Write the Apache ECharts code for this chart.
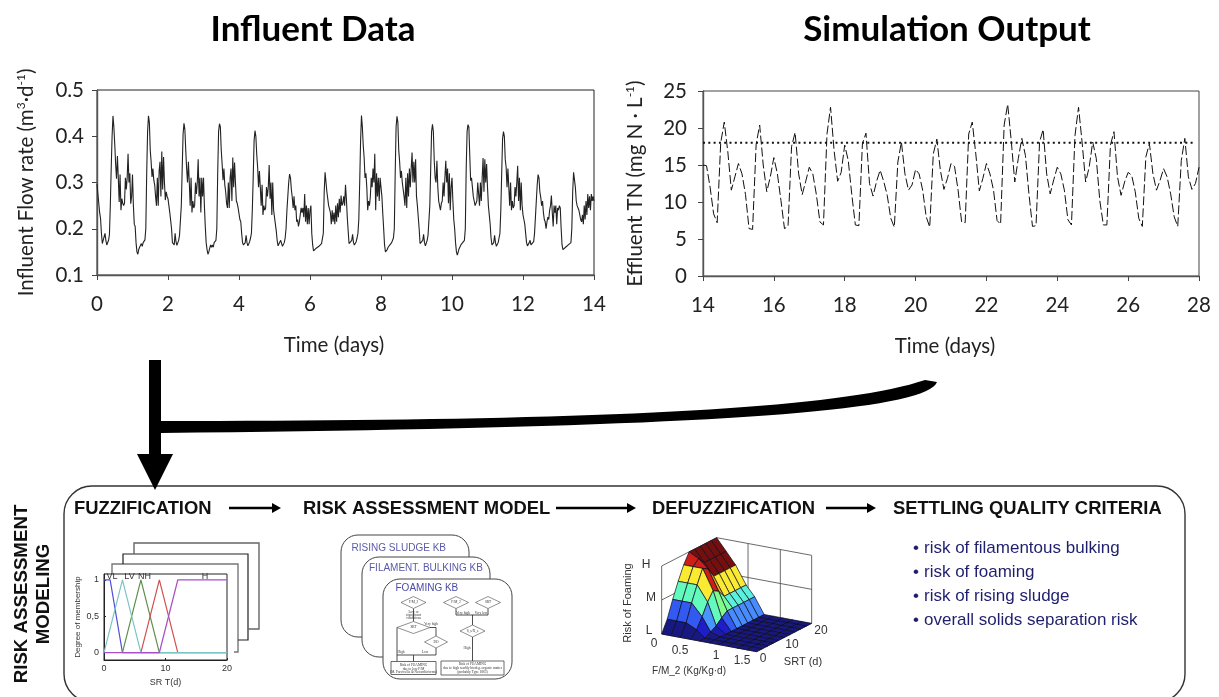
<!DOCTYPE html>
<html><head><meta charset="utf-8">
<style>html,body{margin:0;padding:0;background:#fff}#c{width:1219px;height:697px}</style>
<script src="https://cdn.jsdelivr.net/npm/echarts@6/dist/echarts.min.js"></script>
</head><body><div id="c"></div>
<script>
// ---------- Influent flow, one list per day, sampled 40 times a day
const flowDay0=[.297,.275,.255,.235,.222,.19,.168,.165,.17,.19,.175,.165,.165,.175,.187,.25,.33,.4,.444,.42,.383,.34,.308,.357,.31,.258,.317,.24,.265,.255,.25,.255,.31,.285,.31,.362,.3,.32,.254,.27];
const flowDay1=[.317,.25,.21,.205,.17,.15,.145,.155,.16,.158,.168,.162,.17,.168,.176,.2,.32,.41,.444,.43,.37,.345,.312,.33,.305,.295,.27,.25,.31,.25,.325,.345,.27,.367,.285,.355,.3,.262,.28,.27];
const flowDay2=[.265,.25,.235,.218,.2,.17,.166,.165,.19,.172,.164,.165,.175,.186,.19,.25,.33,.405,.428,.415,.37,.33,.3,.345,.3,.25,.31,.235,.26,.245,.25,.3,.275,.3,.35,.27,.31,.235,.31,.27];
const flowDay3=[.31,.25,.205,.17,.155,.145,.15,.158,.165,.16,.165,.16,.17,.168,.175,.2,.32,.41,.427,.42,.37,.34,.305,.33,.295,.28,.255,.245,.3,.245,.31,.33,.26,.354,.29,.343,.3,.26,.255,.245];
const flowDay4=[.245,.22,.215,.19,.17,.165,.165,.17,.186,.17,.163,.165,.172,.18,.19,.24,.31,.39,.412,.4,.36,.333,.29,.325,.29,.25,.295,.23,.25,.24,.245,.29,.27,.29,.338,.265,.3,.23,.3,.24];
const flowDay5=[.225,.21,.195,.175,.163,.162,.165,.175,.168,.162,.165,.17,.18,.2,.24,.27,.3,.318,.31,.285,.268,.245,.27,.24,.25,.215,.22,.205,.215,.213,.245,.235,.245,.225,.275,.215,.25,.21,.245,.21];
const flowDay6=[.24,.25,.19,.165,.152,.15,.155,.158,.16,.16,.162,.165,.163,.168,.17,.19,.28,.322,.318,.28,.265,.25,.243,.235,.21,.24,.215,.235,.21,.25,.215,.255,.225,.265,.235,.272,.25,.255,.27,.25];
const flowDay7=[.295,.265,.225,.195,.168,.165,.165,.175,.188,.17,.165,.165,.172,.18,.19,.22,.3,.39,.445,.42,.38,.354,.31,.32,.29,.24,.26,.25,.27,.31,.29,.33,.3,.362,.24,.32,.27,.31,.26,.31];
const flowDay8=[.31,.27,.233,.2,.165,.15,.147,.155,.16,.16,.165,.163,.17,.172,.18,.2,.32,.42,.443,.43,.37,.345,.31,.325,.3,.285,.27,.25,.31,.245,.32,.27,.33,.29,.33,.365,.3,.345,.3,.35];
const flowDay9=[.27,.25,.225,.2,.168,.165,.166,.175,.188,.17,.163,.165,.175,.186,.19,.25,.33,.41,.426,.41,.347,.31,.3,.347,.29,.26,.25,.24,.255,.26,.3,.27,.31,.347,.3,.33,.255,.32,.24,.29];
const flowDay10=[.31,.26,.22,.2,.17,.15,.143,.15,.157,.16,.165,.162,.17,.17,.175,.2,.33,.41,.425,.42,.36,.304,.31,.29,.27,.26,.25,.247,.26,.3,.3,.25,.3,.26,.31,.353,.28,.35,.3,.34];
const flowDay11=[.29,.25,.23,.21,.18,.165,.165,.17,.186,.17,.162,.163,.17,.18,.19,.24,.32,.395,.41,.4,.35,.333,.29,.33,.29,.25,.3,.24,.26,.245,.25,.29,.27,.3,.336,.26,.31,.24,.3,.25];
const flowDay12=[.23,.22,.21,.19,.17,.163,.162,.17,.175,.165,.162,.165,.172,.19,.225,.26,.295,.317,.31,.28,.268,.25,.26,.235,.22,.215,.2,.215,.225,.22,.24,.25,.272,.235,.205,.25,.235,.25,.21,.245];
const flowDay13=[.24,.25,.245,.2,.165,.155,.154,.158,.16,.162,.16,.165,.163,.167,.17,.2,.28,.322,.32,.29,.26,.25,.245,.24,.23,.22,.215,.23,.21,.25,.22,.26,.23,.275,.245,.27,.24,.275,.26,.27,.26];
const flowDays=[flowDay0,flowDay1,flowDay2,flowDay3,flowDay4,flowDay5,flowDay6,flowDay7,flowDay8,flowDay9,flowDay10,flowDay11,flowDay12,flowDay13];
// ---------- Effluent TN, every 0.1 day from day 14 to day 28
const effluentTN=[15,14.9,12,8.4,7.2,18,20.8,16.8,11.6,13.4,15.2,13.8,11,6.4,6.3,17.8,20.4,15,11.4,13.4,16,13.8,10.2,6.4,6.7,17.5,19.4,13.8,11,12.8,14.7,13.8,11,7.3,6.9,19.2,22.8,17,12.8,14,17.7,15.6,11,6.9,6.8,17.9,19.3,12.5,10.8,12.8,14.3,12.8,10.9,7.8,6.6,15.4,18.1,13.8,11.6,12.3,14.4,13.8,11.6,8,6.6,16.5,18.5,14.3,11.7,13.2,15.2,14.8,11.6,7.3,7.2,19.2,20.8,16.5,11.5,13.2,15.2,13.8,11.6,7.5,7,20.4,23.2,18.3,12.7,15.9,18.6,16.3,11.1,6.7,6.8,18.1,19.8,13.8,11.1,13,14.7,13.8,11.6,7.6,6.9,19,22.8,18.1,12.7,14.7,18.1,15.9,10.2,6.9,6.9,17.7,19.5,13.4,10.9,12.7,14,13.6,11.4,7.8,6.7,16.1,17.9,13.8,11.6,12.9,14.5,13.4,11.1,8,6.7,15.6,18.6,13.4,11.7,12.5,14.7];
const effluentLimit=[[14,18],[27.85,18]];
// ---------- Membership functions [SRT, degree]
const mfVL=[[0,1],[1,1],[3,0],[20,0]];
const mfLV=[[0,0],[3,1],[6,0],[20,0]];
const mfNH=[[3,0],[6,1],[9,0]];
const mfMH=[[6,0],[9,1],[12,0]];
const mfH=[[0,0],[9,0],[12,1],[20,1]];
// ---------- Risk of foaming surface: one row per F/M step, one column per SRT step (0=L,1=M,2=H)
const fmSteps=[0,.1,.2,.31,.4,.5,.6,.7,.8,.9,1];
const riskRows=[
[0,.35,.85,1.3,1.7,2,2,2,2,2,2],
[0,.35,.85,1.3,1.7,1.85,1.65,1.65,1.65,1.65,1.65],
[0,.35,.85,1.3,1.7,1.6,1.3,1.3,1.3,1.3,1.3],
[0,.2,.5,.85,1.1,1,.77,.77,.77,.77,.77],
[0,0,.1,.2,.35,.47,.47,.47,.47,.47,.47],
[0,0,0,0,0,0,0,0,0,0,0],
[0,0,0,0,0,0,0,0,0,0,0],
[0,0,0,0,0,0,0,0,0,0,0],
[0,0,0,0,0,0,0,0,0,0,0],
[0,0,0,0,0,0,0,0,0,0,0],
[0,0,0,0,0,0,0,0,0,0,0]];
const wallLines=[[0,0,2,0,1,2],[0,1,2,1,1,2],[0,0,1,0,1,1],[0,1,1,1,1,1],[0,0,0,0,0,2],[0,1,0,0,1,2],[1,1,0,1,1,2],[.33,1,0,.33,1,2],[.67,1,0,.67,1,2],[0,.5,0,0,.5,2],[0,0,0,1,0,0],[1,0,0,1,1,0]];

const flowPoints=[];
flowDays.forEach((d,day)=>d.forEach((v,i)=>flowPoints.push([day+i/40,v])));
const tnPoints=effluentTN.map((v,i)=>[14+i/10,v]);

// ---------- View of the 3-D surface, in units of a 690x495 box
const view={ox:155,oy:312,ux:285,uy:53,vx:165,vy:-85,h:102};
const project=(u,v,h)=>[view.ox+u*view.ux+v*view.vx, view.oy+u*view.uy+v*view.vy-h*view.h];
const jetStops=[[0,[24,24,130]],[.2,[30,30,200]],[.35,[50,90,240]],[.47,[70,140,255]],[.77,[90,240,220]],[.85,[100,250,190]],[1.1,[130,250,140]],[1.3,[250,235,50]],[1.6,[235,170,30]],[1.64,[120,15,15]],[1.66,[120,15,15]],[1.68,[205,30,25]],[1.7,[205,30,25]],[2,[115,15,15]]];
function jet(h){for(let i=1;i<jetStops.length;i++){if(h<=jetStops[i][0]){const a=jetStops[i-1],b=jetStops[i],t=(h-a[0])/(b[0]-a[0]);const c=a[1].map((x,k)=>Math.round(x+(b[1][k]-x)*t));return `rgb(${c})`;}}return 'rgb(115,15,15)';}
const faces=[];
for(let r=0;r<riskRows.length-1;r++)for(let c=0;c<riskRows[0].length-1;c++)faces.push([r,c,c-r]);
faces.sort((a,b)=>b[2]-a[2]);
const nV=riskRows[0].length-1;

// ---------- Decoration helpers
const sans='"Liberation Sans",Arial,sans-serif', lato='Lato,sans-serif';
const g=[];
const T=(x,y,text,o={})=>g.push({type:'text',x,y,rotation:(o.rot||0)*Math.PI/180,z:o.z||10,style:{text,fill:o.color||'#222',font:`${o.bold?'bold ':''}${o.size||12}px ${o.family||sans}`,textAlign:o.align||'left',textVerticalAlign:'middle'}});
const L=(pts,o={})=>g.push({type:'polyline',z:o.z||5,shape:{points:pts},style:{stroke:o.color||'#222',lineWidth:o.w||1,fill:null}});
const P=(pts,fill,z)=>g.push({type:'polygon',z:z||5,shape:{points:pts},style:{fill,stroke:null}});
const D=(cx,cy,w,h)=>g.push({type:'polygon',z:8,shape:{points:[[cx-w,cy],[cx,cy-h],[cx+w,cy],[cx,cy+h]]},style:{fill:'#fff',stroke:'#444',lineWidth:.6}});
const Card=(x,y,w,h,z)=>g.push({type:'rect',z,shape:{x,y,width:w,height:h,r:17},style:{fill:'#fff',stroke:'#444',lineWidth:1}});
const bez=(a,b,c,d)=>{const o=[];for(let i=0;i<=40;i++){const t=i/40,m=1-t;o.push([m*m*m*a[0]+3*m*m*t*b[0]+3*m*t*t*c[0]+t*t*t*d[0],m*m*m*a[1]+3*m*m*t*b[1]+3*m*t*t*c[1]+t*t*t*d[1]]);}return o;};

// big arrows
g.push({type:'rect',z:6,shape:{x:149,y:360,width:12,height:97},style:{fill:'#000'}});
P([[137,454],[173,454],[155,490]],'#000',7);
P([...bez([161,421],[550,421],[830,412],[925,380]),...bez([937,382],[925,415],[650,428],[161,433])],'#000',6);
// outer frame
g.push({type:'rect',z:4,shape:{x:64,y:486,width:1121,height:216,r:28},style:{fill:null,stroke:'#333',lineWidth:1.4}});
// section heads
T(74,509,'FUZZIFICATION',{bold:1,size:18.4,color:'#111'});
T(303,509,'RISK ASSESSMENT MODEL',{bold:1,size:18.4,color:'#111'});
T(652,509,'DEFUZZIFICATION',{bold:1,size:18.4,color:'#111'});
T(893,509,'SETTLING QUALITY CRITERIA',{bold:1,size:18.4,color:'#111'});
[[229,281],[556,636],[826,876]].forEach(a=>{L([[a[0],508],[a[1]-8,508]],{w:2.4,color:'#000'});P([[a[1]-9,503],[a[1],508],[a[1]-9,513]],'#000');});
T(22,594,'RISK ASSESSMENT',{bold:1,size:18.7,rot:90,align:'center',color:'#111'});
T(44,594,'MODELING',{bold:1,size:18.7,rot:90,align:'center',color:'#111'});
// criteria list
['risk of filamentous bulking','risk of foaming','risk of rising sludge','overall solids separation risk'].forEach((t,i)=>{T(913,548+24*i,'•',{size:17,color:'#1f1f6e'});T(924,548+24*i,t,{size:17,color:'#1f1f6e'});});
// stacked fuzzification sheets
L([[112,574],[112,564],[238,564],[238,652],[234,652]],{color:'#777',w:1.4});
L([[123,564],[123,554],[248,554],[248,640],[238,640]],{w:1.2});
L([[134,554],[134,543],[259,543],[259,629],[248,629]],{color:'#666',w:1.4});
T(112,577,'VL',{size:9,align:'center',color:'#333'});T(129.5,577,'LV',{size:9,align:'center',color:'#333'});T(144.5,577,'NH',{size:9,align:'center',color:'#333'});T(205,577,'H',{size:9,align:'center',color:'#333'});
// knowledge-base cards
Card(341,535,128,102,1);Card(362,557,128,100,2);Card(383,579,129,100,3);
T(351.5,548,'RISING SLUDGE KB',{size:10,color:'#5a5aa8',z:6});
T(369,568.5,'FILAMENT. BULKING KB',{size:10,color:'#5a5aa8',z:6});
T(395.5,588,'FOAMING KB',{size:10,color:'#4a4aa8',z:6});
D(413.5,602.5,12.5,6);D(456,602.5,12.5,6);D(488,602.5,12.5,6);D(413.5,627.5,16.5,6);D(436,642,11.5,6);D(472.5,631,12.5,6);
L([[413.5,608.5],[413.5,621.5]],{w:.8,z:6});L([[397,627.5],[397,661]],{w:.8,z:6});L([[430,627.5],[436,627.5],[436,636]],{w:.8,z:6});L([[436,648],[436,655],[413.5,655],[413.5,661.5]],{w:.8,z:6});L([[397,655],[413.5,655]],{w:.8,z:6});
L([[456,608.5],[456,615],[488,615],[488,608.5]],{w:.8,z:6});L([[472.5,615],[472.5,625]],{w:.8,z:6});L([[472.5,637],[472.5,661.5]],{w:.8,z:6});
g.push({type:'rect',z:7,shape:{x:391,y:661.5,width:45,height:13},style:{fill:'#fff',stroke:'#444',lineWidth:.8}});
g.push({type:'rect',z:7,shape:{x:441,y:661,width:63,height:14},style:{fill:'#fff',stroke:'#444',lineWidth:.8}});
const tiny={size:3.5,align:'center',color:'#333',z:9,family:'"Liberation Serif",serif'};
[[413.5,602.5,'F/M_2'],[456,602.5,'F/M_2'],[488,602.5,'SRT'],[413.5,627.5,'SRT'],[436,642,'DO'],[472.5,631,'S_s/X_s'],[413.5,612,'Low or'],[413.5,615,'significant'],[413.5,618,'conditions'],[431,624,'Very high'],[463,613,'Very high'],[481,613,'Very low'],[401,652,'High'],[425,652,'Low'],[467,648,'High'],[413.5,665,'Risk of FOAMING'],[413.5,669,'due to low F/M'],[413.5,672.5,'(M. Parvicella & Nocardioforms)'],[472.5,664,'Risk of FOAMING'],[472.5,668,'due to high readily biodeg. organic matter'],[472.5,672,'(probably Type 1863)']].forEach(a=>T(a[0],a[1],a[2],tiny));
// surface annotations
T(646,565,'H',{size:12,align:'center',color:'#333'});T(651,598,'M',{size:12,align:'center',color:'#333'});T(649,631,'L',{size:12,align:'center',color:'#333'});
T(628,603,'Risk of Foaming',{size:11,rot:90,align:'center',color:'#333'});
[[654,644,'0'],[680,651,'0.5'],[716,656,'1'],[742,661,'1.5'],[763,659,'0'],[792,645,'10'],[821,631,'20']].forEach(a=>T(a[0],a[1],a[2],{size:12,align:'center',color:'#333'}));
T(689,671,'F/M_2 (Kg/Kg·d)',{size:10,align:'center',color:'#333'});
T(803,662,'SRT (d)',{size:11,align:'center',color:'#333'});

const chartText={fontFamily:lato,fontSize:20.5,color:'#222'};
const nameRich={a:{fontFamily:lato,fontSize:20.5,color:'#222',lineHeight:22,verticalAlign:'middle'},s:{fontFamily:lato,fontSize:12,color:'#222',lineHeight:14,verticalAlign:'top'}};
const axisCommon={axisLine:{show:true,onZero:false,lineStyle:{color:'#555',width:1.4}},axisTick:{show:true,length:5,lineStyle:{color:'#444'}},splitLine:{show:false}};
const smallAxis={axisLine:{onZero:false,lineStyle:{color:'#222'}},axisTick:{inside:true,length:2,lineStyle:{color:'#222'}},splitLine:{show:false}};

const option={
 animation:false,backgroundColor:'#fff',
 title:[
  {text:'Influent Data',left:308,top:7,textAlign:'center',textStyle:{fontFamily:lato,fontWeight:'bold',fontSize:35,color:'#000'}},
  {text:'Simulation Output',left:942,top:7,textAlign:'center',textStyle:{fontFamily:lato,fontWeight:'bold',fontSize:35,color:'#000'}}],
 grid:[
  {left:97,top:90,width:497,height:185,show:true,borderColor:'#222',borderWidth:1},
  {left:703,top:91,width:496,height:185,show:true,borderColor:'#444',borderWidth:1},
  {left:104,top:574,width:123,height:86,show:true,borderColor:'#222',borderWidth:1,backgroundColor:'#fff'},
  {left:610,top:530,width:230,height:165,show:false}],
 xAxis:[
  {gridIndex:0,type:'value',min:0,max:14,interval:2,name:'Time (days)',nameLocation:'middle',nameGap:60,nameTextStyle:{...chartText,padding:[0,23,0,0]},axisLabel:{...chartText,margin:19},...axisCommon},
  {gridIndex:1,type:'value',min:14,max:28,interval:2,name:'Time (days)',nameLocation:'middle',nameGap:60,nameTextStyle:{...chartText,padding:[0,12,0,0]},axisLabel:{...chartText,margin:19},...axisCommon},
  {gridIndex:2,type:'value',min:0,max:20,interval:10,name:'SR T(d)',nameLocation:'middle',nameGap:18,nameTextStyle:{fontFamily:sans,fontSize:9,color:'#333'},axisLabel:{fontFamily:sans,fontSize:9,color:'#333',margin:4},...smallAxis},
  {gridIndex:3,type:'value',min:0,max:690,show:false}],
 yAxis:[
  {gridIndex:0,type:'value',min:.1,max:.5,interval:.1,name:'{a|Influent Flow rate (m}{s|3}{a|·d}{s|-1}{a|)}',nameLocation:'middle',nameGap:60,nameRotate:90,nameTextStyle:{rich:nameRich},axisLabel:{...chartText,margin:13,formatter:v=>v.toFixed(1)},...axisCommon},
  {gridIndex:1,type:'value',min:0,max:25,interval:5,name:'{a|Effluent TN (mg N · L}{s|-1}{a|)}',nameLocation:'middle',nameGap:57,nameRotate:90,nameTextStyle:{rich:nameRich},axisLabel:{...chartText,margin:16},...axisCommon},
  {gridIndex:2,type:'value',min:-.1,max:1.08,name:'Degree of membership',nameLocation:'middle',nameGap:22,nameRotate:90,nameTextStyle:{fontFamily:sans,fontSize:8,color:'#333'},axisLabel:{fontFamily:sans,fontSize:9,color:'#333',margin:5,customValues:[0,.5,1],formatter:v=>String(v).replace('.',',')},...smallAxis,axisTick:{inside:true,length:2,customValues:[0,.5,1],lineStyle:{color:'#222'}}},
  {gridIndex:3,type:'value',min:0,max:495,inverse:true,show:false}],
 series:[
  {type:'line',xAxisIndex:0,yAxisIndex:0,data:flowPoints,showSymbol:false,lineStyle:{color:'#222',width:1.1}},
  {type:'line',xAxisIndex:1,yAxisIndex:1,data:tnPoints,showSymbol:false,lineStyle:{color:'#111',width:1,type:[9,3]}},
  {type:'line',xAxisIndex:1,yAxisIndex:1,data:effluentLimit,showSymbol:false,lineStyle:{color:'#111',width:2,type:[2,3.3]}},
  {type:'line',xAxisIndex:2,yAxisIndex:2,data:mfVL,showSymbol:false,lineStyle:{color:'#5050d8',width:1.2}},
  {type:'line',xAxisIndex:2,yAxisIndex:2,data:mfNH,showSymbol:false,lineStyle:{color:'#5f8f4a',width:1.2}},
  {type:'line',xAxisIndex:2,yAxisIndex:2,data:mfMH,showSymbol:false,lineStyle:{color:'#d05050',width:1.2}},
  {type:'line',xAxisIndex:2,yAxisIndex:2,data:mfLV,showSymbol:false,lineStyle:{color:'#7cc4c4',width:1.2}},
  {type:'line',xAxisIndex:2,yAxisIndex:2,data:mfH,showSymbol:false,lineStyle:{color:'#a850c8',width:1.3}},
  {type:'custom',xAxisIndex:3,yAxisIndex:3,coordinateSystem:'cartesian2d',data:wallLines,clip:false,z:3,silent:true,
   renderItem:(p,api)=>{const d=wallLines[p.dataIndex];const a=api.coord(project(d[0],d[1],d[2])),b=api.coord(project(d[3],d[4],d[5]));
     return {type:'line',shape:{x1:a[0],y1:a[1],x2:b[0],y2:b[1]},style:{stroke:'#444',lineWidth:.8}};}},
  {type:'custom',xAxisIndex:3,yAxisIndex:3,coordinateSystem:'cartesian2d',data:faces,clip:false,z:4,silent:true,
   renderItem:(p,api)=>{const [r,c]=faces[p.dataIndex];
     const pt=(i,j)=>api.coord(project(fmSteps[i],j/nV,riskRows[i][j]));
     return {type:'polygon',shape:{points:[pt(r,c),pt(r+1,c),pt(r+1,c+1),pt(r,c+1)]},style:{fill:jet(riskRows[r][c]),stroke:'#0c0c18',lineWidth:.7}};}}
 ],
 graphic:{elements:g}
};
echarts.init(document.getElementById('c'),null,{renderer:'canvas'}).setOption(option);
</script></body></html>
